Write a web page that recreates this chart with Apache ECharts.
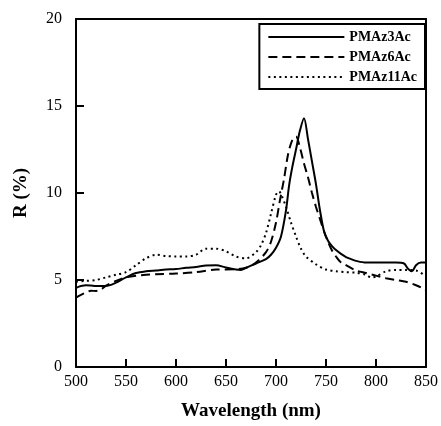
<!DOCTYPE html>
<html><head><meta charset="utf-8">
<script src="https://cdn.jsdelivr.net/npm/echarts@6/dist/echarts.min.js"></script>
<style>html,body{margin:0;padding:0;background:#fff}#c{width:441px;height:426px}</style>
</head><body><div id="c"></div>
<script>
const seriesNames = ['PMAz3Ac', 'PMAz6Ac', 'PMAz11Ac'];
const xTicks = [500, 550, 600, 650, 700, 750, 800, 850];
const yTicks = [0, 5, 10, 15, 20];

const wl3 = [500,505,510,515,520,525,530,535,540,550,560,570,580,590,600,610,620,630,640,650,660,665,670,680,690,695,700,705,710,713,716,720,724,728,732,736,740,744,748,752,756,760,765,770,775,780,790,800,810,820,828,832,836,840,845,850];
const r3  = [4.55,4.65,4.7,4.68,4.65,4.66,4.66,4.72,4.85,5.15,5.4,5.5,5.55,5.6,5.63,5.7,5.75,5.83,5.85,5.72,5.6,5.58,5.7,5.95,6.2,6.45,6.85,7.5,9.0,10.4,11.4,12.5,13.6,14.3,13.1,11.8,10.5,9.0,7.8,7.25,6.95,6.72,6.5,6.32,6.2,6.1,6.0,6.0,6.0,6.0,5.95,5.65,5.5,5.85,6.0,6.0];

const wl6 = [500,505,510,515,520,525,530,540,550,560,570,580,600,620,640,660,670,680,690,695,700,704,708,712,716,720,724,728,732,736,740,744,748,752,756,760,765,770,780,790,800,810,820,830,840,845,850];
const r6  = [3.99,4.15,4.28,4.38,4.37,4.45,4.68,4.95,5.15,5.25,5.3,5.33,5.37,5.45,5.6,5.62,5.7,6.0,6.6,7.2,8.3,9.6,10.8,12.2,13.0,13.25,12.6,11.7,10.9,10.0,9.2,8.5,7.8,7.2,6.7,6.35,6.0,5.85,5.55,5.4,5.25,5.1,5.0,4.9,4.7,4.57,4.4];

const wl11 = [500,510,520,530,540,550,560,570,580,590,600,610,620,630,640,650,660,670,680,685,690,695,700,703,706,710,715,720,725,730,740,750,760,770,780,790,795,800,810,820,830,840,850];
const r11  = [4.9,4.95,5.0,5.15,5.3,5.45,5.85,6.25,6.45,6.38,6.35,6.35,6.45,6.8,6.8,6.65,6.35,6.25,6.6,7.0,7.7,8.8,9.9,10.1,9.8,9.2,8.3,7.5,6.8,6.35,5.9,5.6,5.5,5.45,5.42,5.3,5.15,5.2,5.5,5.58,5.58,5.55,5.2];

const pairs = (xs, ys) => xs.map((x, i) => [x, ys[i]]);
const FONT = 'Liberation Serif';

const chart = echarts.init(document.getElementById('c'), null, {renderer: 'canvas'});
const mkSeries = (name, xs, ys, type, w) => ({
  name, type: 'line', data: pairs(xs, ys), showSymbol: false, symbol: 'none',
  smooth: 0.3, lineStyle: {color: '#000', width: w, type}, itemStyle: {color: '#000'}
});
const frameAxis = {
  type: 'value', axisLine: {show: true, onZero: false, lineStyle: {color: '#000', width: 2}},
  axisTick: {show: false}, axisLabel: {show: false}, splitLine: {show: false}
};
// inward x-axis ticks, placed through the axis scale
const tickSeries = {
  type: 'custom', silent: true, clip: false, z: 10,
  data: xTicks.map(v => [v, yTicks[0]]),
  renderItem: (params, api) => {
    const p = api.coord([api.value(0), api.value(1)]);
    return {type: 'line', shape: {x1: p[0], y1: p[1], x2: p[0], y2: p[1] - 8},
            style: {stroke: '#000', lineWidth: 2}};
  }
};
chart.setOption({
  animation: false,
  backgroundColor: '#fff',
  grid: {left: 76, right: 13, top: 19, bottom: 58, show: false},
  legend: {
    data: seriesNames, orient: 'vertical', right: 16, top: 24,
    backgroundColor: '#fff', borderColor: '#000', borderWidth: 2, padding: [6, 8, 5, 8],
    itemWidth: 76, itemHeight: 12, itemGap: 6,
    itemStyle: {opacity: 0},
    textStyle: {fontFamily: FONT, fontWeight: 'bold', fontSize: 14, color: '#000'}
  },
  xAxis: [{
    type: 'value', position: 'bottom', min: xTicks[0], max: xTicks[xTicks.length - 1], interval: 50,
    name: 'Wavelength (nm)', nameLocation: 'middle', nameGap: 35,
    nameTextStyle: {fontFamily: FONT, fontWeight: 'bold', fontSize: 19, color: '#000'},
    axisLine: {show: true, onZero: false, lineStyle: {color: '#000', width: 2}},
    axisTick: {show: false},
    axisLabel: {fontFamily: FONT, fontSize: 16, color: '#000', margin: 7},
    splitLine: {show: false}
  }, Object.assign({position: 'top', min: xTicks[0], max: xTicks[xTicks.length - 1]}, frameAxis)],
  yAxis: [{
    type: 'value', position: 'left', min: yTicks[0], max: yTicks[yTicks.length - 1], interval: 5,
    name: 'R (%)', nameLocation: 'middle', nameGap: 45,
    nameTextStyle: {fontFamily: FONT, fontWeight: 'bold', fontSize: 19, color: '#000'},
    axisLine: {show: true, onZero: false, lineStyle: {color: '#000', width: 2}},
    axisTick: {show: true, inside: true, length: 8, lineStyle: {color: '#000', width: 2}},
    axisLabel: {fontFamily: FONT, fontSize: 16, color: '#000', margin: 14},
    splitLine: {show: false}
  }, Object.assign({position: 'right', min: yTicks[0], max: yTicks[yTicks.length - 1]}, frameAxis)],
  series: [
    mkSeries(seriesNames[0], wl3, r3, 'solid', 2),
    mkSeries(seriesNames[1], wl6, r6, [9, 5], 2),
    mkSeries(seriesNames[2], wl11, r11, [2, 3.5], 2),
    tickSeries
  ]
});
</script></body></html>
